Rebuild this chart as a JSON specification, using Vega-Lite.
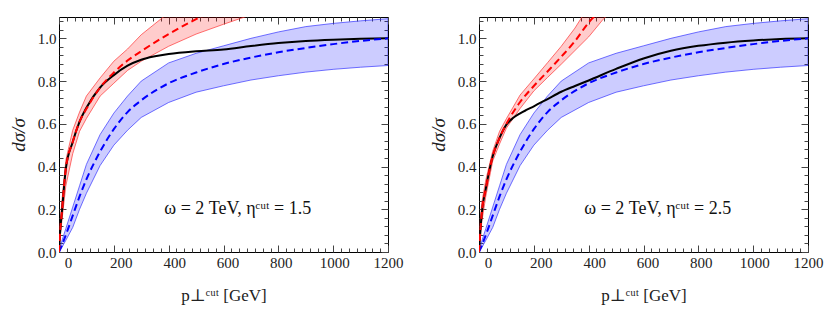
{
  "$schema": "https://vega.github.io/schema/vega-lite/v6.json",
  "padding": {"left": 8, "top": 13, "right": 20, "bottom": 8},
  "background": "white",
  "spacing": 91,
  "bounds": "flush",
  "datasets": {
    "blue": [
      {"x": 0, "lo": 0, "c": 0, "hi": 0},
      {"x": 10, "lo": 0.02, "c": 0.03, "hi": 0.05},
      {"x": 25, "lo": 0.055, "c": 0.08, "hi": 0.11},
      {"x": 50, "lo": 0.115, "c": 0.17, "hi": 0.21},
      {"x": 75, "lo": 0.2, "c": 0.26, "hi": 0.31},
      {"x": 100, "lo": 0.275, "c": 0.34, "hi": 0.41},
      {"x": 150, "lo": 0.405, "c": 0.47, "hi": 0.55},
      {"x": 200, "lo": 0.5, "c": 0.575, "hi": 0.65},
      {"x": 250, "lo": 0.57, "c": 0.655, "hi": 0.73},
      {"x": 300, "lo": 0.63, "c": 0.71, "hi": 0.8},
      {"x": 400, "lo": 0.7, "c": 0.79, "hi": 0.885},
      {"x": 500, "lo": 0.748, "c": 0.84, "hi": 0.93},
      {"x": 600, "lo": 0.778, "c": 0.88, "hi": 0.965},
      {"x": 700, "lo": 0.805, "c": 0.91, "hi": 1.0},
      {"x": 800, "lo": 0.825, "c": 0.935, "hi": 1.03},
      {"x": 900, "lo": 0.842, "c": 0.955, "hi": 1.055},
      {"x": 1000, "lo": 0.855, "c": 0.973, "hi": 1.07},
      {"x": 1100, "lo": 0.865, "c": 0.988, "hi": 1.082},
      {"x": 1200, "lo": 0.873, "c": 1.0, "hi": 1.092}
    ],
    "red1": [
      {"x": 0, "lo": 0, "c": 0, "hi": 0},
      {"x": 5, "lo": 0.08, "c": 0.11, "hi": 0.14},
      {"x": 10, "lo": 0.14, "c": 0.18, "hi": 0.23},
      {"x": 25, "lo": 0.31, "c": 0.39, "hi": 0.43},
      {"x": 50, "lo": 0.46, "c": 0.515, "hi": 0.57},
      {"x": 75, "lo": 0.565, "c": 0.61, "hi": 0.655},
      {"x": 100, "lo": 0.625, "c": 0.67, "hi": 0.73},
      {"x": 150, "lo": 0.73, "c": 0.77, "hi": 0.815},
      {"x": 200, "lo": 0.79, "c": 0.84, "hi": 0.893},
      {"x": 250, "lo": 0.85, "c": 0.896, "hi": 0.95},
      {"x": 300, "lo": 0.893, "c": 0.94, "hi": 1.017},
      {"x": 400, "lo": 0.963, "c": 1.02, "hi": 1.12},
      {"x": 500, "lo": 1.02, "c": 1.09, "hi": 1.2},
      {"x": 600, "lo": 1.066, "c": 1.15, "hi": 1.27},
      {"x": 700, "lo": 1.11, "c": 1.2, "hi": 1.33}
    ],
    "red2": [
      {"x": 0, "lo": 0, "c": 0, "hi": 0},
      {"x": 5, "lo": 0.07, "c": 0.1, "hi": 0.15},
      {"x": 10, "lo": 0.14, "c": 0.18, "hi": 0.23},
      {"x": 25, "lo": 0.262, "c": 0.297, "hi": 0.338},
      {"x": 50, "lo": 0.426, "c": 0.448, "hi": 0.472},
      {"x": 75, "lo": 0.506, "c": 0.534, "hi": 0.565},
      {"x": 100, "lo": 0.58, "c": 0.6, "hi": 0.624},
      {"x": 150, "lo": 0.672, "c": 0.702, "hi": 0.735},
      {"x": 200, "lo": 0.754, "c": 0.777, "hi": 0.81},
      {"x": 250, "lo": 0.817, "c": 0.845, "hi": 0.886},
      {"x": 300, "lo": 0.879, "c": 0.914, "hi": 0.963},
      {"x": 350, "lo": 0.943, "c": 0.987, "hi": 1.048},
      {"x": 400, "lo": 1.007, "c": 1.074, "hi": 1.15},
      {"x": 450, "lo": 1.085, "c": 1.14, "hi": 1.23},
      {"x": 500, "lo": 1.15, "c": 1.2, "hi": 1.3}
    ],
    "black1": [
      {"x": 0, "y": 0}, {"x": 5, "y": 0.11}, {"x": 10, "y": 0.18}, {"x": 25, "y": 0.39},
      {"x": 50, "y": 0.515}, {"x": 75, "y": 0.61}, {"x": 100, "y": 0.675}, {"x": 150, "y": 0.77},
      {"x": 200, "y": 0.828}, {"x": 250, "y": 0.872}, {"x": 300, "y": 0.9}, {"x": 350, "y": 0.916},
      {"x": 400, "y": 0.927}, {"x": 500, "y": 0.94}, {"x": 600, "y": 0.948}, {"x": 700, "y": 0.964},
      {"x": 800, "y": 0.978}, {"x": 900, "y": 0.988}, {"x": 1000, "y": 0.994}, {"x": 1100, "y": 0.998},
      {"x": 1200, "y": 1.0}
    ],
    "black2": [
      {"x": 0, "y": 0}, {"x": 5, "y": 0.1}, {"x": 10, "y": 0.18}, {"x": 25, "y": 0.297},
      {"x": 50, "y": 0.448}, {"x": 75, "y": 0.534}, {"x": 100, "y": 0.596}, {"x": 125, "y": 0.628},
      {"x": 150, "y": 0.649}, {"x": 175, "y": 0.666}, {"x": 200, "y": 0.682}, {"x": 250, "y": 0.716},
      {"x": 300, "y": 0.75}, {"x": 350, "y": 0.777}, {"x": 400, "y": 0.803}, {"x": 500, "y": 0.857},
      {"x": 600, "y": 0.906}, {"x": 700, "y": 0.942}, {"x": 800, "y": 0.965}, {"x": 900, "y": 0.98},
      {"x": 1000, "y": 0.99}, {"x": 1100, "y": 0.997}, {"x": 1200, "y": 1.0}
    ],
    "note1": [{"x": 652, "y": 0.2, "label": "ω = 2 TeV,  ηᶜᵘᵗ = 1.5"}],
    "note2": [{"x": 652, "y": 0.2, "label": "ω = 2 TeV,  ηᶜᵘᵗ = 2.5"}]
  },
  "hconcat": [
    {
      "width": 329, "height": 235,
      "resolve": {"axis": {"x": "independent", "y": "independent"}},
      "layer": [
        {
          "data": {"name": "blue"},
          "mark": {"type": "area", "clip": true, "fill": "#0000ff", "fillOpacity": 0.2, "stroke": "#3333ff", "strokeWidth": 0.7},
          "encoding": {
            "x": {"field": "x", "type": "quantitative", "scale": {"domain": [0, 1200], "nice": false, "zero": false},
              "axis": {"orient": "bottom", "values": [0,28.57,57.14,85.71,114.29,142.86,171.43,200,228.57,257.14,285.71,314.29,342.86,371.43,400,428.57,457.14,485.71,514.29,542.86,571.43,600,628.57,657.14,685.71,714.29,742.86,771.43,800,828.57,857.14,885.71,914.29,942.86,971.43,1000,1028.57,1057.14,1085.71,1114.29,1142.86,1171.43,1200],
                "tickSize": {"condition": {"test": "abs(datum.value/200 - round(datum.value/200)) < 0.001", "value": -7}, "value": -4},
                "labelExpr": "abs(datum.value/200 - round(datum.value/200)) < 0.001 ? format(round(datum.value), 'd') : ''",
                "labelOffset": {"condition": [{"test": "datum.value < 100", "value": 9}, {"test": "datum.value < 300", "value": 7}, {"test": "datum.value < 500", "value": 5.5}, {"test": "datum.value < 700", "value": 4}, {"test": "datum.value < 900", "value": 2.5}, {"test": "datum.value < 1100", "value": 1}], "value": 0},
                "labelPadding": 10, "labelOverlap": false, "labelFlush": false,
                "title": "p⊥ᶜᵘᵗ [GeV]", "titlePadding": 14}},
            "y": {"field": "lo", "type": "quantitative", "scale": {"domain": [0, 1.1], "nice": false},
              "axis": {"orient": "left", "values": [0,0.04,0.08,0.12,0.16,0.2,0.24,0.28,0.32,0.36,0.4,0.44,0.48,0.52,0.56,0.6,0.64,0.68,0.72,0.76,0.8,0.84,0.88,0.92,0.96,1,1.04,1.08],
                "tickSize": {"condition": {"test": "abs(datum.value*5 - round(datum.value*5)) < 0.01", "value": -7}, "value": -4},
                "labelExpr": "abs(datum.value*5 - round(datum.value*5)) < 0.01 ? format(datum.value, '.1f') : ''",
                "labelPadding": 10, "labelOverlap": false, "labelFlush": false,
                "title": "dσ/σ", "titleFontStyle": "italic", "titleFontSize": 19, "titlePadding": 9}},
            "y2": {"field": "hi"}
          }
        },
        {
          "data": {"name": "red1"},
          "mark": {"type": "area", "clip": true, "fill": "#ff0000", "fillOpacity": 0.2, "stroke": "#ff3333", "strokeWidth": 0.7},
          "encoding": {
            "x": {"field": "x", "type": "quantitative",
              "axis": {"orient": "top", "values": [0,28.57,57.14,85.71,114.29,142.86,171.43,200,228.57,257.14,285.71,314.29,342.86,371.43,400,428.57,457.14,485.71,514.29,542.86,571.43,600,628.57,657.14,685.71,714.29,742.86,771.43,800,828.57,857.14,885.71,914.29,942.86,971.43,1000,1028.57,1057.14,1085.71,1114.29,1142.86,1171.43,1200],
                "tickSize": {"condition": {"test": "abs(datum.value/200 - round(datum.value/200)) < 0.001", "value": -7}, "value": -4},
                "labels": false, "title": null}},
            "y": {"field": "lo", "type": "quantitative",
              "axis": {"orient": "right", "values": [0,0.04,0.08,0.12,0.16,0.2,0.24,0.28,0.32,0.36,0.4,0.44,0.48,0.52,0.56,0.6,0.64,0.68,0.72,0.76,0.8,0.84,0.88,0.92,0.96,1,1.04,1.08],
                "tickSize": {"condition": {"test": "abs(datum.value*5 - round(datum.value*5)) < 0.01", "value": -7}, "value": -4},
                "labels": false, "title": null}},
            "y2": {"field": "hi"}
          }
        },
        {
          "data": {"name": "black1"},
          "mark": {"type": "line", "clip": true, "color": "#000000", "strokeWidth": 2, "interpolate": "monotone"},
          "encoding": {"x": {"field": "x", "type": "quantitative", "axis": null}, "y": {"field": "y", "type": "quantitative", "axis": null}}
        },
        {
          "data": {"name": "blue"},
          "mark": {"type": "line", "clip": true, "color": "#0000ff", "strokeWidth": 2, "strokeDash": [7, 4], "interpolate": "monotone"},
          "encoding": {"x": {"field": "x", "type": "quantitative", "axis": null}, "y": {"field": "c", "type": "quantitative", "axis": null}}
        },
        {
          "data": {"name": "red1"},
          "mark": {"type": "line", "clip": true, "color": "#ff0000", "strokeWidth": 2, "strokeDash": [7, 4], "interpolate": "monotone"},
          "encoding": {"x": {"field": "x", "type": "quantitative", "axis": null}, "y": {"field": "c", "type": "quantitative", "axis": null}}
        },
        {
          "data": {"name": "note1"},
          "mark": {"type": "text", "font": "'Liberation Serif', 'DejaVu Serif', serif", "fontSize": 18, "align": "center", "baseline": "middle", "color": "#111"},
          "encoding": {"x": {"field": "x", "type": "quantitative", "axis": null}, "y": {"field": "y", "type": "quantitative", "axis": null}, "text": {"field": "label"}}
        }
      ]
    },
    {
      "width": 329, "height": 235,
      "resolve": {"axis": {"x": "independent", "y": "independent"}},
      "layer": [
        {
          "data": {"name": "blue"},
          "mark": {"type": "area", "clip": true, "fill": "#0000ff", "fillOpacity": 0.2, "stroke": "#3333ff", "strokeWidth": 0.7},
          "encoding": {
            "x": {"field": "x", "type": "quantitative", "scale": {"domain": [0, 1200], "nice": false, "zero": false},
              "axis": {"orient": "bottom", "values": [0,28.57,57.14,85.71,114.29,142.86,171.43,200,228.57,257.14,285.71,314.29,342.86,371.43,400,428.57,457.14,485.71,514.29,542.86,571.43,600,628.57,657.14,685.71,714.29,742.86,771.43,800,828.57,857.14,885.71,914.29,942.86,971.43,1000,1028.57,1057.14,1085.71,1114.29,1142.86,1171.43,1200],
                "tickSize": {"condition": {"test": "abs(datum.value/200 - round(datum.value/200)) < 0.001", "value": -7}, "value": -4},
                "labelExpr": "abs(datum.value/200 - round(datum.value/200)) < 0.001 ? format(round(datum.value), 'd') : ''",
                "labelOffset": {"condition": [{"test": "datum.value < 100", "value": 9}, {"test": "datum.value < 300", "value": 7}, {"test": "datum.value < 500", "value": 5.5}, {"test": "datum.value < 700", "value": 4}, {"test": "datum.value < 900", "value": 2.5}, {"test": "datum.value < 1100", "value": 1}], "value": 0},
                "labelPadding": 10, "labelOverlap": false, "labelFlush": false,
                "title": "p⊥ᶜᵘᵗ [GeV]", "titlePadding": 14}},
            "y": {"field": "lo", "type": "quantitative", "scale": {"domain": [0, 1.1], "nice": false},
              "axis": {"orient": "left", "values": [0,0.04,0.08,0.12,0.16,0.2,0.24,0.28,0.32,0.36,0.4,0.44,0.48,0.52,0.56,0.6,0.64,0.68,0.72,0.76,0.8,0.84,0.88,0.92,0.96,1,1.04,1.08],
                "tickSize": {"condition": {"test": "abs(datum.value*5 - round(datum.value*5)) < 0.01", "value": -7}, "value": -4},
                "labelExpr": "abs(datum.value*5 - round(datum.value*5)) < 0.01 ? format(datum.value, '.1f') : ''",
                "labelPadding": 10, "labelOverlap": false, "labelFlush": false,
                "title": "dσ/σ", "titleFontStyle": "italic", "titleFontSize": 19, "titlePadding": 9}},
            "y2": {"field": "hi"}
          }
        },
        {
          "data": {"name": "red2"},
          "mark": {"type": "area", "clip": true, "fill": "#ff0000", "fillOpacity": 0.2, "stroke": "#ff3333", "strokeWidth": 0.7},
          "encoding": {
            "x": {"field": "x", "type": "quantitative",
              "axis": {"orient": "top", "values": [0,28.57,57.14,85.71,114.29,142.86,171.43,200,228.57,257.14,285.71,314.29,342.86,371.43,400,428.57,457.14,485.71,514.29,542.86,571.43,600,628.57,657.14,685.71,714.29,742.86,771.43,800,828.57,857.14,885.71,914.29,942.86,971.43,1000,1028.57,1057.14,1085.71,1114.29,1142.86,1171.43,1200],
                "tickSize": {"condition": {"test": "abs(datum.value/200 - round(datum.value/200)) < 0.001", "value": -7}, "value": -4},
                "labels": false, "title": null}},
            "y": {"field": "lo", "type": "quantitative",
              "axis": {"orient": "right", "values": [0,0.04,0.08,0.12,0.16,0.2,0.24,0.28,0.32,0.36,0.4,0.44,0.48,0.52,0.56,0.6,0.64,0.68,0.72,0.76,0.8,0.84,0.88,0.92,0.96,1,1.04,1.08],
                "tickSize": {"condition": {"test": "abs(datum.value*5 - round(datum.value*5)) < 0.01", "value": -7}, "value": -4},
                "labels": false, "title": null}},
            "y2": {"field": "hi"}
          }
        },
        {
          "data": {"name": "black2"},
          "mark": {"type": "line", "clip": true, "color": "#000000", "strokeWidth": 2, "interpolate": "monotone"},
          "encoding": {"x": {"field": "x", "type": "quantitative", "axis": null}, "y": {"field": "y", "type": "quantitative", "axis": null}}
        },
        {
          "data": {"name": "blue"},
          "mark": {"type": "line", "clip": true, "color": "#0000ff", "strokeWidth": 2, "strokeDash": [7, 4], "interpolate": "monotone"},
          "encoding": {"x": {"field": "x", "type": "quantitative", "axis": null}, "y": {"field": "c", "type": "quantitative", "axis": null}}
        },
        {
          "data": {"name": "red2"},
          "mark": {"type": "line", "clip": true, "color": "#ff0000", "strokeWidth": 2, "strokeDash": [7, 4], "interpolate": "monotone"},
          "encoding": {"x": {"field": "x", "type": "quantitative", "axis": null}, "y": {"field": "c", "type": "quantitative", "axis": null}}
        },
        {
          "data": {"name": "note2"},
          "mark": {"type": "text", "font": "'Liberation Serif', 'DejaVu Serif', serif", "fontSize": 18, "align": "center", "baseline": "middle", "color": "#111"},
          "encoding": {"x": {"field": "x", "type": "quantitative", "axis": null}, "y": {"field": "y", "type": "quantitative", "axis": null}, "text": {"field": "label"}}
        }
      ]
    }
  ],
  "config": {
    "view": {"stroke": "#000000", "strokeWidth": 1},
    "axis": {"domain": false, "grid": false, "labelFont": "'Liberation Serif', 'DejaVu Serif', serif", "labelFontSize": 15, "labelColor": "#222222",
      "titleFont": "'Liberation Serif', 'DejaVu Serif', serif", "titleFontSize": 17, "titleFontWeight": "normal", "titleColor": "#222222",
      "tickColor": "#444444", "tickWidth": 1}
  }
}
